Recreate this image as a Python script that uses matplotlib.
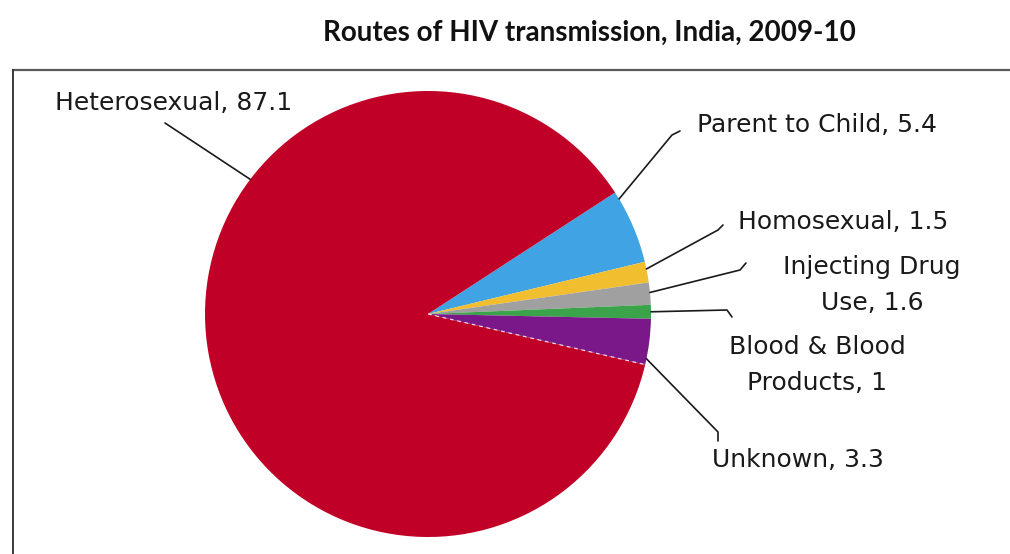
import numpy as np
import matplotlib
matplotlib.use('Agg')
import matplotlib.pyplot as plt
from matplotlib.lines import Line2D

# HIV transmission routes, India 2009-10 (percent)
routes = ['Parent to Child', 'Homosexual', 'Injecting Drug\nUse', 'Blood & Blood\nProducts',
          'Unknown', 'Heterosexual']
shares = [5.4, 1.5, 1.6, 1.0, 3.3, 87.1]
colors = ['#3FA3E4', '#F0BE2E', '#A0A0A0', '#3BA34A', '#7A1889', '#C10027']

W, H = 1010, 554
CX, CY, R = 428, 314, 223   # pie centre and radius in pixels

def px(x, y):
    # pixel position -> data units of the full-figure axes
    return ((x - CX) / R, (CY - y) / R)

fig = plt.figure(figsize=(W / 100, H / 100), dpi=100)
ax = fig.add_axes([0, 0, 1, 1])

wedges, _ = ax.pie(shares, colors=colors, startangle=33, counterclock=False,
                   wedgeprops=dict(linewidth=0))
ax.set_aspect('auto')
ax.set_xlim(-CX / R, (W - CX) / R)
ax.set_ylim(-(H - CY) / R, CY / R)
ax.axis('off')

# white dashed seam between Unknown and Heterosexual
seam = np.deg2rad(wedges[4].theta1)
ax.plot([0, np.cos(seam)], [0, np.sin(seam)], color='white', lw=0.9,
        ls=(0, (3, 3)), alpha=0.8)

# label text, where it sits, the elbow of its leader and where on the wedge it attaches
label_text = [f'{n}, {v:g}' for n, v in zip(routes, shares)]
label_pos = [(697, 125, 'left'), (738, 222, 'left'), (872, 285, 'center'),
             (817, 365, 'center'), (712, 460, 'left'), (55, 103, 'left')]
elbows = [[(672, 135), (680, 131)], [(718, 230), (723, 225)], [(740, 270), (746, 263)],
          [(727, 310), (732, 317)], [(718, 432), (718, 441)], [(165, 123)]]
attach = [0.9, 0.65, 0.55, 0.5, 0.13, 0.35]

for w, txt, (tx, ty, ha), elb, f in zip(wedges, label_text, label_pos, elbows, attach):
    ang = np.deg2rad(w.theta1 + f * (w.theta2 - w.theta1))
    pts = [(np.cos(ang), np.sin(ang))] + [px(*p) for p in elb]
    xs, ys = zip(*pts)
    ax.plot(xs, ys, color='#1a1a1a', lw=1.2, solid_capstyle='round')
    ax.text(*px(tx, ty), txt, ha=ha, va='center', fontsize=18, color='#1a1a1a',
            linespacing=1.6, family='DejaVu Sans')

# chart frame
fig.add_artist(Line2D([13 / W, 1], [1 - 70 / H, 1 - 70 / H], color='#5a5a5a', lw=1.6))
fig.add_artist(Line2D([13 / W, 13 / W], [0, 1 - 70 / H], color='#3a3a3a', lw=1.4))

fig.text(589 / W, 1 - 33 / H, 'Routes of HIV transmission, India, 2009-10',
         ha='center', va='center', fontsize=20, fontweight='bold', family='Lato',
         color='#111111')

fig.savefig('out.png', dpi=100)
